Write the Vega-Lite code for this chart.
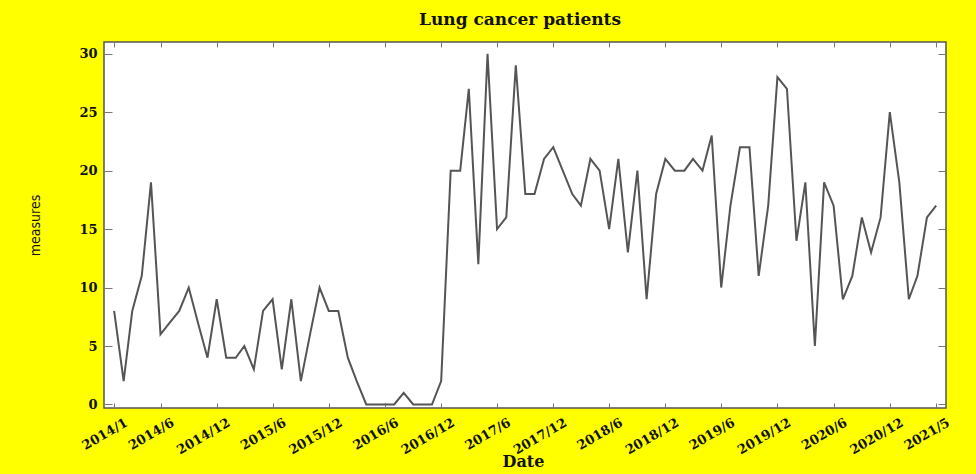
{
  "$schema": "https://vega.github.io/schema/vega-lite/v6.json",
  "width": 842,
  "height": 366,
  "autosize": {"type": "none"},
  "padding": {"left": 104, "top": 42, "right": 30, "bottom": 66},
  "background": "#ffff00",
  "title": {"text": "Lung cancer patients", "font": "DejaVu Serif", "fontSize": 17, "fontWeight": "bold", "color": "#111111", "offset": 13, "anchor": "middle", "dx": -5},
  "config": {"view": {"stroke": "#555555", "strokeWidth": 1.5, "fill": "#ffffff"}},
  "data": {"values": [
    {"date": "2014/1/1", "v": 8}, {"date": "2014/2/1", "v": 2}, {"date": "2014/3/1", "v": 8}, {"date": "2014/4/1", "v": 11},
    {"date": "2014/5/1", "v": 19}, {"date": "2014/6/1", "v": 6}, {"date": "2014/7/1", "v": 7}, {"date": "2014/8/1", "v": 8},
    {"date": "2014/9/1", "v": 10}, {"date": "2014/10/1", "v": 7}, {"date": "2014/11/1", "v": 4}, {"date": "2014/12/1", "v": 9},
    {"date": "2015/1/1", "v": 4}, {"date": "2015/2/1", "v": 4}, {"date": "2015/3/1", "v": 5}, {"date": "2015/4/1", "v": 3},
    {"date": "2015/5/1", "v": 8}, {"date": "2015/6/1", "v": 9}, {"date": "2015/7/1", "v": 3}, {"date": "2015/8/1", "v": 9},
    {"date": "2015/9/1", "v": 2}, {"date": "2015/10/1", "v": 6}, {"date": "2015/11/1", "v": 10}, {"date": "2015/12/1", "v": 8},
    {"date": "2016/1/1", "v": 8}, {"date": "2016/2/1", "v": 4}, {"date": "2016/3/1", "v": 2}, {"date": "2016/4/1", "v": 0},
    {"date": "2016/5/1", "v": 0}, {"date": "2016/6/1", "v": 0}, {"date": "2016/7/1", "v": 0}, {"date": "2016/8/1", "v": 1},
    {"date": "2016/9/1", "v": 0}, {"date": "2016/10/1", "v": 0}, {"date": "2016/11/1", "v": 0}, {"date": "2016/12/1", "v": 2},
    {"date": "2017/1/1", "v": 20}, {"date": "2017/2/1", "v": 20}, {"date": "2017/3/1", "v": 27}, {"date": "2017/4/1", "v": 12},
    {"date": "2017/5/1", "v": 30}, {"date": "2017/6/1", "v": 15}, {"date": "2017/7/1", "v": 16}, {"date": "2017/8/1", "v": 29},
    {"date": "2017/9/1", "v": 18}, {"date": "2017/10/1", "v": 18}, {"date": "2017/11/1", "v": 21}, {"date": "2017/12/1", "v": 22},
    {"date": "2018/1/1", "v": 20}, {"date": "2018/2/1", "v": 18}, {"date": "2018/3/1", "v": 17}, {"date": "2018/4/1", "v": 21},
    {"date": "2018/5/1", "v": 20}, {"date": "2018/6/1", "v": 15}, {"date": "2018/7/1", "v": 21}, {"date": "2018/8/1", "v": 13},
    {"date": "2018/9/1", "v": 20}, {"date": "2018/10/1", "v": 9}, {"date": "2018/11/1", "v": 18}, {"date": "2018/12/1", "v": 21},
    {"date": "2019/1/1", "v": 20}, {"date": "2019/2/1", "v": 20}, {"date": "2019/3/1", "v": 21}, {"date": "2019/4/1", "v": 20},
    {"date": "2019/5/1", "v": 23}, {"date": "2019/6/1", "v": 10}, {"date": "2019/7/1", "v": 17}, {"date": "2019/8/1", "v": 22},
    {"date": "2019/9/1", "v": 22}, {"date": "2019/10/1", "v": 11}, {"date": "2019/11/1", "v": 17}, {"date": "2019/12/1", "v": 28},
    {"date": "2020/1/1", "v": 27}, {"date": "2020/2/1", "v": 14}, {"date": "2020/3/1", "v": 19}, {"date": "2020/4/1", "v": 5},
    {"date": "2020/5/1", "v": 19}, {"date": "2020/6/1", "v": 17}, {"date": "2020/7/1", "v": 9}, {"date": "2020/8/1", "v": 11},
    {"date": "2020/9/1", "v": 16}, {"date": "2020/10/1", "v": 13}, {"date": "2020/11/1", "v": 16}, {"date": "2020/12/1", "v": 25},
    {"date": "2021/1/1", "v": 19}, {"date": "2021/2/1", "v": 9}, {"date": "2021/3/1", "v": 11}, {"date": "2021/4/1", "v": 16},
    {"date": "2021/5/1", "v": 17}
  ]},
  "layer": [
    {
      "mark": {"type": "line", "color": "#555555", "strokeWidth": 2},
      "encoding": {
        "x": {
          "field": "date", "type": "temporal", "title": "Date",
          "scale": {"domain": [{"year": 2013, "month": 11, "date": 29}, {"year": 2021, "month": 6, "date": 2}]},
          "axis": {
            "orient": "bottom", "domain": false, "grid": false, "format": "%Y/%-m",
            "values": [
              {"year": 2014, "month": 1, "date": 1}, {"year": 2014, "month": 6, "date": 1}, {"year": 2014, "month": 12, "date": 1},
              {"year": 2015, "month": 6, "date": 1}, {"year": 2015, "month": 12, "date": 1}, {"year": 2016, "month": 6, "date": 1},
              {"year": 2016, "month": 12, "date": 1}, {"year": 2017, "month": 6, "date": 1}, {"year": 2017, "month": 12, "date": 1},
              {"year": 2018, "month": 6, "date": 1}, {"year": 2018, "month": 12, "date": 1}, {"year": 2019, "month": 6, "date": 1},
              {"year": 2019, "month": 12, "date": 1}, {"year": 2020, "month": 6, "date": 1}, {"year": 2020, "month": 12, "date": 1},
              {"year": 2021, "month": 5, "date": 1}
            ],
            "tickSize": -5, "tickColor": "#777777", "tickWidth": 1,
            "labelAngle": -30, "labelAlign": "right", "labelBaseline": "top",
            "labelFont": "DejaVu Serif", "labelFontSize": 13, "labelFontWeight": "bold", "labelColor": "#111111",
            "labelPadding": 13, "labelOffset": 9, "labelOverlap": false, "labelFlush": false,
            "titleFont": "DejaVu Serif", "titleFontSize": 16, "titleFontWeight": "bold", "titleColor": "#111111",
            "titleY": 58, "titleBaseline": "alphabetic", "titleX": 419
          }
        },
        "y": {
          "field": "v", "type": "quantitative", "title": "measures",
          "scale": {"domain": [-0.3, 31], "nice": false, "zero": false},
          "axis": {
            "orient": "left", "domain": false, "grid": false,
            "values": [0, 5, 10, 15, 20, 25, 30],
            "tickSize": -8, "tickColor": "#777777", "tickWidth": 1,
            "labelFont": "DejaVu Serif", "labelFontSize": 13, "labelFontWeight": "bold", "labelColor": "#111111",
            "labelPadding": 15,
            "titleFont": "Liberation Sans Narrow, DejaVu Sans Condensed, sans-serif", "titleFontSize": 14, "titleFontWeight": "normal", "titleColor": "#111111",
            "titlePadding": 36
          }
        }
      }
    },
    {
      "mark": {"type": "line", "strokeOpacity": 0},
      "encoding": {
        "x": {
          "field": "date", "type": "temporal",
          "axis": {
            "orient": "top", "domain": false, "grid": false, "labels": false, "title": null,
            "values": [
              {"year": 2014, "month": 1, "date": 1}, {"year": 2014, "month": 6, "date": 1}, {"year": 2014, "month": 12, "date": 1},
              {"year": 2015, "month": 6, "date": 1}, {"year": 2015, "month": 12, "date": 1}, {"year": 2016, "month": 6, "date": 1},
              {"year": 2016, "month": 12, "date": 1}, {"year": 2017, "month": 6, "date": 1}, {"year": 2017, "month": 12, "date": 1},
              {"year": 2018, "month": 6, "date": 1}, {"year": 2018, "month": 12, "date": 1}, {"year": 2019, "month": 6, "date": 1},
              {"year": 2019, "month": 12, "date": 1}, {"year": 2020, "month": 6, "date": 1}, {"year": 2020, "month": 12, "date": 1},
              {"year": 2021, "month": 5, "date": 1}
            ],
            "tickSize": -5, "tickColor": "#777777", "tickWidth": 1
          }
        },
        "y": {
          "field": "v", "type": "quantitative",
          "axis": {
            "orient": "right", "domain": false, "grid": false, "labels": false, "title": null,
            "values": [0, 5, 10, 15, 20, 25, 30],
            "tickSize": -8, "tickColor": "#777777", "tickWidth": 1
          }
        }
      }
    }
  ],
  "resolve": {"axis": {"x": "independent", "y": "independent"}}
}
